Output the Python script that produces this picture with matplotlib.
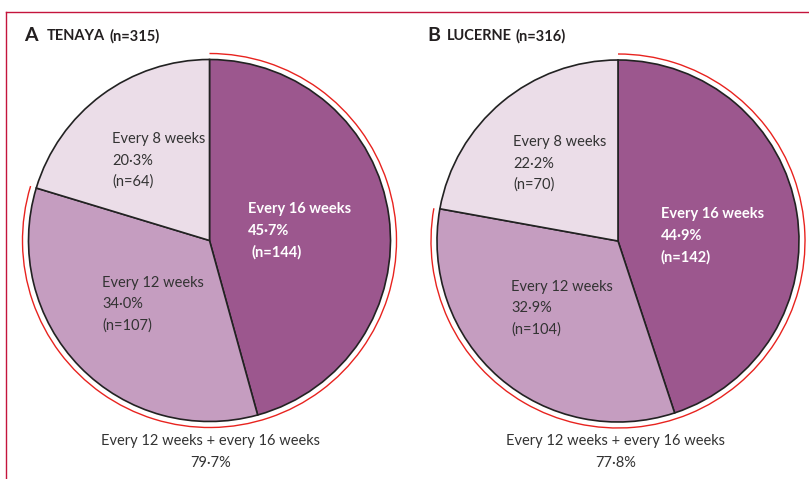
import matplotlib
matplotlib.use("Agg")
import matplotlib.pyplot as plt
from matplotlib.patches import Arc
from matplotlib.lines import Line2D

plt.rcParams['font.family'] = ['Lato', 'DejaVu Sans']

W, H = 809, 479

# data
trial_letters = ["A", "B"]
trial_names = ["TENAYA", "LUCERNE"]
trial_n = [315, 316]
categories = ["Every 16 weeks", "Every 12 weeks", "Every 8 weeks"]
tenaya_n = [144, 107, 64]
tenaya_pct = ["45·7%", "34·0%", "20·3%"]
lucerne_n = [142, 104, 70]
lucerne_pct = ["44·9%", "32·9%", "22·2%"]
combined_label = "Every 12 weeks + every 16 weeks"
combined_pct_val = [79.7, 77.8]
combined_pct = ["79·7%", "77·8%"]

colors = ["#9c578e", "#c59dc0", "#ebdde8"]
red = "#e8231f"
frame = "#c4143c"
txt = "#333333"

fig = plt.figure(figsize=(W / 100, H / 100), dpi=100)
ax = fig.add_axes([0, 0, 1, 1])

def Y(py):
    return H - py

panels = [
    dict(center=(209.5, 240.5), r=181, counts=tenaya_n, pcts=tenaya_pct,
         title_x=(24, 47), title_y=35,
         lab_pos=[(248, 209, 252), (102, 283, 102), (112, 139, 112)],
         bottom_x=211),
    dict(center=(618, 241), r=181, counts=lucerne_n, pcts=lucerne_pct,
         title_x=(427, 447), title_y=35,
         lab_pos=[(661, 214, 661), (511, 287, 511), (513, 142, 513)],
         bottom_x=616),
]

for i, p in enumerate(panels):
    cx, cy = p["center"]
    ax.pie(p["counts"], colors=colors, startangle=90, counterclock=False,
           center=(cx, Y(cy)), radius=p["r"],
           wedgeprops=dict(edgecolor="#222222", linewidth=1.2))
    end_angle = 90 - 360 * combined_pct_val[i] / 100.0
    arc = Arc((cx, Y(cy)), 2 * (p["r"] + 6), 2 * (p["r"] + 6),
              theta1=end_angle + 360, theta2=90 + 360,
              color=red, linewidth=1.0)
    ax.add_patch(arc)

    # titles
    tx = p["title_x"]
    ax.text(tx[0], Y(p["title_y"]), trial_letters[i], fontsize=14, fontweight="bold",
            color="#231f20", ha="left", va="center")
    name = ax.text(tx[1], Y(p["title_y"] + 1), trial_names[i], fontsize=10.5,
                   fontweight="bold", color="#231f20", ha="left", va="center")
    ax.annotate(f"(n={trial_n[i]})", xy=(1, 0.5), xycoords=name,
                xytext=(4, 0), textcoords="offset pixels",
                fontsize=10.5, fontweight="bold", color="#231f20",
                ha="left", va="center")

    # slice labels
    for k, cat in enumerate(categories):
        x1, y1, x3 = p["lab_pos"][k]
        col = "white" if k == 0 else txt
        fw = "bold" if k == 0 else "normal"
        ax.text(x1, Y(y1), cat, fontsize=10.5, color=col, fontweight=fw, ha="left", va="center")
        ax.text(x1, Y(y1 + 21.5), p["pcts"][k], fontsize=10.5, color=col, fontweight=fw,
                ha="left", va="center")
        ax.text(x3, Y(y1 + 43), f"(n={p['counts'][k]})", fontsize=10.5, color=col,
                fontweight=fw, ha="left", va="center")

    ax.text(p["bottom_x"], Y(441), combined_label, fontsize=10.5, color=txt,
            ha="center", va="center")
    ax.text(p["bottom_x"], Y(463), combined_pct[i], fontsize=10.5, color=txt,
            ha="center", va="center")

# frame lines
ax.add_line(Line2D([6.5, W], [Y(12.3), Y(12.3)], color=frame, linewidth=1.0))
ax.add_line(Line2D([6.5, 6.5], [Y(12.3), 0], color=frame, linewidth=1.0))

ax.set_xlim(0, W)
ax.set_ylim(0, H)
ax.set_aspect("equal")
ax.axis("off")

fig.savefig("out.png", dpi=100)
